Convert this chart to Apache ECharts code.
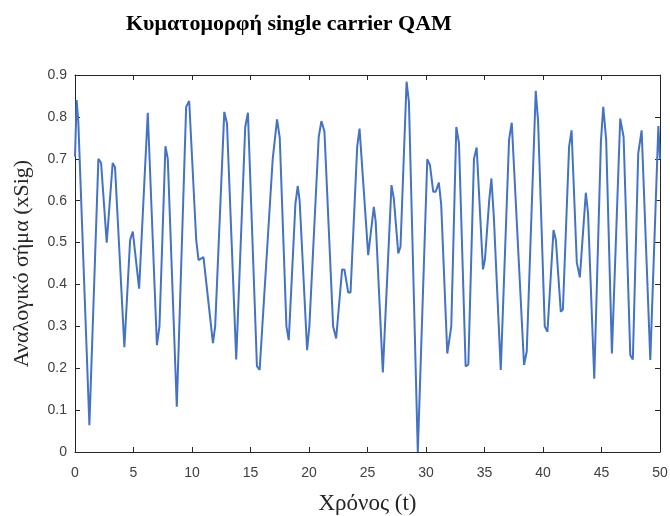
<!DOCTYPE html>
<html>
<head>
    <meta charset="utf-8">
    <title>QAM | ECharts</title>
    <script src="https://cdn.jsdelivr.net/npm/echarts@6/dist/echarts.min.js"></script>
</head>
<body style="margin:0;background:#fff;">
    <div id="main" style="width: 670px;height:516px;"></div>
    <script type="text/javascript">
        // χρόνος και τιμές του σήματος (διαβασμένα από την εικόνα)
        var times = [
            0, 0.14, 0.28, 1.23, 2.0, 2.23, 2.71, 3.22, 3.42, 4.22, 4.71, 4.94, 5.48, 6.22,
            7.0, 7.22, 7.73, 7.93, 8.7, 9.5, 9.76, 10.36, 10.56, 10.98, 11.79, 11.98, 12.76, 12.99,
            13.78, 14.55, 14.78, 15.55, 15.78, 16.9, 17.27, 17.5, 18.07, 18.27, 18.84, 19.04, 19.2,
            19.84, 20.03, 20.83, 21.06, 21.32, 22.06, 22.32, 22.83, 23.03, 23.35, 23.55, 24.12, 24.32,
            25.06, 25.54, 25.7, 26.31, 27.05, 27.25, 27.63, 27.82, 28.34, 28.54, 29.3, 30.11, 30.34,
            30.62, 30.82, 31.1, 31.3, 31.82, 32.16, 32.59, 32.82, 33.39, 33.62, 34.1, 34.33, 34.87,
            35.04, 35.4, 35.59, 35.8, 36.39, 37.1, 37.33, 38.38, 38.61, 39.38, 39.58, 40.15, 40.38,
            40.9, 41.1, 41.52, 41.7, 42.23, 42.44, 42.89, 43.15, 43.66, 43.85, 44.38, 44.95, 45.15,
            45.4, 45.89, 46.6, 46.89, 47.46, 47.68, 48.14, 48.43, 49.17, 49.86, 50
        ];
        var xSig = [
            0.705, 0.84, 0.79, 0.064, 0.70, 0.69, 0.50, 0.69, 0.68, 0.25, 0.506, 0.526, 0.39, 0.81,
            0.255, 0.30, 0.73, 0.70, 0.108, 0.824, 0.838, 0.506, 0.458, 0.465, 0.26, 0.30, 0.812, 0.784,
            0.221, 0.776, 0.81, 0.205, 0.196, 0.70, 0.794, 0.75, 0.30, 0.267, 0.593, 0.635, 0.60,
            0.243, 0.30, 0.752, 0.79, 0.765, 0.30, 0.271, 0.436, 0.435, 0.381, 0.381, 0.729, 0.772,
            0.47, 0.585, 0.55, 0.19, 0.637, 0.605, 0.474, 0.49, 0.884, 0.836, 0.0, 0.699, 0.685,
            0.621, 0.621, 0.643, 0.59, 0.235, 0.30, 0.776, 0.737, 0.204, 0.209, 0.70, 0.727, 0.436,
            0.46, 0.60, 0.653, 0.56, 0.196, 0.746, 0.786, 0.208, 0.24, 0.862, 0.79, 0.30, 0.287,
            0.53, 0.506, 0.335, 0.34, 0.729, 0.768, 0.452, 0.417, 0.619, 0.57, 0.175, 0.741, 0.824,
            0.745, 0.235, 0.796, 0.752, 0.231, 0.221, 0.713, 0.768, 0.22, 0.778, 0.70
        ];

        var points = times.map(function (t, i) { return [t, xSig[i]]; });

        var myChart = echarts.init(document.getElementById('main'));

        var tickLabel = { color: '#404040', fontFamily: 'Liberation Sans, Arial', fontSize: 14 };
        var axLine = { show: true, onZero: false, lineStyle: { color: '#262626' } };
        var axTick = { inside: true, length: 5, lineStyle: { color: '#262626' } };

        var option = {
            animation: false,
            title: {
                text: 'Κυματομορφή single carrier QAM',
                left: 121,
                top: 8,
                textStyle: { fontFamily: 'Liberation Serif, Times New Roman', fontWeight: 'bold', fontSize: 22, color: '#000' }
            },
            grid: { left: 75, right: 10, top: 75, bottom: 64, containLabel: false, outerBoundsMode: 'none' },
            xAxis: [{
                type: 'value', min: 0, max: 50, interval: 5,
                name: 'Χρόνος (t)', nameLocation: 'middle', nameGap: 40,
                nameTextStyle: { fontFamily: 'Liberation Serif, Times New Roman', fontSize: 23, color: '#262626' },
                axisLine: axLine,
                axisTick: axTick,
                axisLabel: Object.assign({ margin: 14 }, tickLabel),
                splitLine: { show: false }
            }, {
                type: 'value', position: 'top', min: 0, max: 50, interval: 5,
                axisLine: axLine,
                axisTick: axTick,
                axisLabel: { show: false },
                splitLine: { show: false }
            }],
            yAxis: [{
                type: 'value', min: 0, max: 0.9, interval: 0.1,
                name: 'Αναλογικό σήμα (xSig)', nameLocation: 'middle', nameGap: 42,
                nameTextStyle: { fontFamily: 'Liberation Serif, Times New Roman', fontSize: 22, color: '#262626' },
                axisLine: axLine,
                axisTick: axTick,
                axisLabel: Object.assign({ margin: 8, formatter: function (v) { return v === 0 ? '0' : v.toFixed(1); } }, tickLabel),
                splitLine: { show: false }
            }, {
                type: 'value', position: 'right', min: 0, max: 0.9, interval: 0.1,
                axisLine: axLine,
                axisTick: axTick,
                axisLabel: { show: false },
                splitLine: { show: false }
            }],
            series: [{
                name: 'xSig',
                type: 'line',
                data: points,
                showSymbol: false,
                lineStyle: { color: '#4472c4', width: 2 }
            }]
        };

        myChart.setOption(option);
    </script>
</body>
</html>
